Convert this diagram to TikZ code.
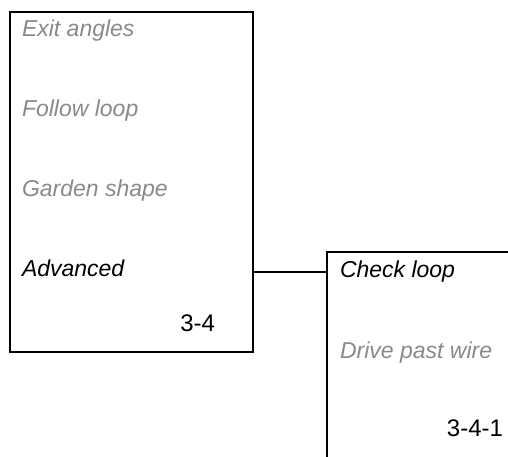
\documentclass[tikz,border=0pt]{standalone}
\usepackage{fontspec}
\setmainfont{Liberation Sans}
\usepackage{xcolor}
\usepackage{tikz}
\usetikzlibrary{positioning}
\definecolor{itemgray}{HTML}{8A8A8A}
\begin{document}
\begin{tikzpicture}[x=1pt,y=-1pt,
        every node/.style={inner sep=0pt,outer sep=0pt},
        menubox/.style={draw,line width=2pt,rectangle},
        item/.style={anchor=base west,text=itemgray,
          font={\itshape\fontsize{23}{27}\selectfont}},
        active/.style={item,text=black},
        pagenum/.style={anchor=base east,font={\fontsize{24}{28}\selectfont}}]
        \fill[white] (0,0) rectangle (508,456);
        \clip (0,0) rectangle (508,456);
        % menu 3-4
        \node[menubox,minimum width=243pt,minimum height=340pt] (box34) at (131.5,182) {};
        \node[item] (exit) at (22,36) {Exit angles};
        \node[item] (follow) at (22,116.5) {Follow loop};
        \node[item] (garden) at (22,196.5) {Garden shape};
        \node[active] (advanced) at (22,276.7) {Advanced};
        \node[pagenum] (num34) at (215,331) {3-4};
        % menu 3-4-1, runs past the page
        \node[menubox,anchor=north west,minimum width=250pt,minimum height=260pt] (box341) at (326.5,251.5) {};
        \node[active] (check) at (340,277.3) {Check loop};
        \node[item] (drive) at (340,358) {Drive past wire};
        \node[pagenum] (num341) at (503,436.7) {3-4-1};
        \draw[line width=2pt] ([yshift=-4pt]advanced.center -| box34.east) -- ([yshift=-4pt]advanced.center -| box341.west);
      \end{tikzpicture}
\end{document}
